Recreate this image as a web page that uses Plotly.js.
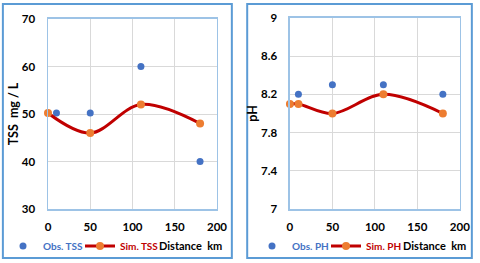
<!DOCTYPE html>
<html>
<head>
<meta charset="utf-8">
<script src="https://cdn.plot.ly/plotly-3.0.1.min.js"></script>
<style>html,body{margin:0;padding:0;background:#fff;}#chart{width:480px;height:263px;}</style>
</head>
<body>
<div id="chart"></div>
<script>
// TSS panel
const obsTssX = [10, 50, 110, 180];
const obsTssY = [50.2, 50.2, 60, 40];
const simTssX = [0, 50, 110, 180];
const simTssY = [50.2, 46, 52, 48];
// pH panel
const obsPhX = [10, 50, 110, 180];
const obsPhY = [8.2, 8.3, 8.3, 8.2];
const simPhX = [0, 10, 50, 110, 180];
const simPhY = [8.1, 8.1, 8.0, 8.2, 8.0];
const xTicks = [0, 50, 100, 150, 200];
const tssTicks = [30, 40, 50, 60, 70];
const phTicks = [7, 7.4, 7.8, 8.2, 8.6, 9];
const phTickText = ['7', '7.4', '7.8', '8.2', '8.6', '9'];

const FONT = 'Lato, "Liberation Sans", Arial, sans-serif';
const BLUE = '#4472C4', RED = '#C00000', ORANGE = '#ED7D31';

function obs(x, y, name, xa, ya, lg) {
  return {x, y, xaxis: xa, yaxis: ya, legend: lg, type: 'scatter', mode: 'markers', cliponaxis: false,
    name: '<span style="color:' + BLUE + '"><b>' + name + '</b></span>',
    marker: {color: BLUE, size: 7}};
}
function sim(x, y, name, xa, ya, lg) {
  return {x, y, xaxis: xa, yaxis: ya, legend: lg, type: 'scatter', mode: 'lines+markers', cliponaxis: false,
    name: '<span style="color:' + RED + '"><b>' + name + '</b></span>',
    line: {color: RED, width: 3, shape: 'spline', smoothing: 1},
    marker: {color: ORANGE, size: 8}};
}

const data = [
  obs(obsTssX, obsTssY, 'Obs. TSS', 'x', 'y', 'legend'),
  sim(simTssX, simTssY, 'Sim. TSS', 'x', 'y', 'legend2'),
  obs(obsPhX, obsPhY, 'Obs. PH', 'x2', 'y2', 'legend3'),
  sim(simPhX, simPhY, 'Sim. PH', 'x2', 'y2', 'legend4')
];

const tickFont = {family: FONT, size: 11.5, color: '#000', weight: 'bold'};
function xax(domain, anchor) {
  return {domain, anchor, range: [0, 200], tickvals: xTicks, showgrid: true, gridcolor: '#D9D9D9', gridwidth: 1,
    zeroline: false, showline: true, mirror: true, linecolor: '#9DC3E6', linewidth: 1.5,
    ticks: 'outside', ticklen: 7, tickcolor: 'rgba(0,0,0,0)', tickfont: tickFont, fixedrange: true};
}
function yax(domain, anchor, range, vals, text, title) {
  const a = {domain, anchor, range, tickvals: vals, showgrid: true, gridcolor: '#D9D9D9', gridwidth: 1,
    zeroline: false, showline: true, mirror: true, linecolor: '#9DC3E6', linewidth: 1.5,
    ticks: 'outside', ticklen: 9, tickcolor: 'rgba(0,0,0,0)', tickfont: tickFont, fixedrange: true,
    title: {text: title, font: {family: FONT, size: 12.5, color: '#000', weight: 'bold'}, standoff: 0}};
  if (text) a.ticktext = text;
  return a;
}

const legFont = {family: FONT, size: 10, weight: 'bold'};
function leg(xpx) {
  return {orientation: 'h', x: xpx / 480, y: 0.065, xanchor: 'left', yanchor: 'middle', font: legFont,
    bgcolor: 'rgba(0,0,0,0)', itemwidth: 30, borderwidth: 0};
}
const layout = {
  width: 480, height: 263,
  margin: {l: 0, r: 0, t: 0, b: 0},
  paper_bgcolor: '#fff', plot_bgcolor: '#fff',
  font: {family: FONT},
  xaxis: xax([0.1, 0.452], 'y'),
  yaxis: yax([0.205, 0.928], 'x', [30, 70], tssTicks, null, '<b>TSS  mg / L</b>'),
  xaxis2: xax([0.604, 0.958], 'y2'),
  yaxis2: yax([0.205, 0.932], 'x2', [7, 9], phTicks, phTickText, '<b>pH</b>'),
  legend: leg(3),
  legend2: leg(80),
  legend3: leg(252),
  legend4: leg(326),
  showlegend: true,
  annotations: [
    {text: '<b>Distance  km</b>', xref: 'paper', yref: 'paper', x: 0.466, y: 0.065, xanchor: 'right', yanchor: 'middle',
      showarrow: false, font: {family: FONT, size: 11, color: '#000'}},
    {text: '<b>Distance  km</b>', xref: 'paper', yref: 'paper', x: 0.975, y: 0.065, xanchor: 'right', yanchor: 'middle',
      showarrow: false, font: {family: FONT, size: 11, color: '#000'}}
  ],
  shapes: [
    {type: 'rect', xref: 'paper', yref: 'paper', x0: 0.006, x1: 0.483, y0: 0.019, y1: 0.985,
      line: {color: '#5B9BD5', width: 2}},
    {type: 'rect', xref: 'paper', yref: 'paper', x0: 0.515, x1: 0.983, y0: 0.019, y1: 0.985,
      line: {color: '#5B9BD5', width: 2}}
  ]
};

Plotly.newPlot('chart', data, layout, {displayModeBar: false, staticPlot: true});
</script>
</body>
</html>
